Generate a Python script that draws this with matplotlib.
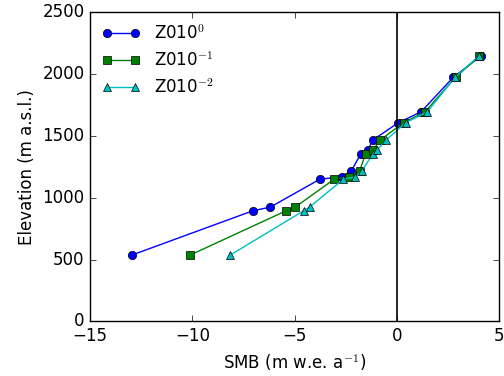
import numpy as np
import matplotlib
matplotlib.use('Agg')
import matplotlib.pyplot as plt

plt.style.use('classic')
plt.rcParams['mathtext.fontset'] = 'cm'

# elevation of the bands (m a.s.l.)
elev = [538, 895, 925, 1151, 1169, 1215, 1357, 1384, 1468, 1608, 1696, 1976, 2145]

# SMB per band for the three roughness lengths
smb_z0_0 = [-12.95, -7.05, -6.19, -3.76, -2.69, -2.23, -1.76, -1.42, -1.17, 0.08, 1.19, 2.77, 4.10]
smb_z0_1 = [-10.1, -5.42, -4.97, -3.06, -2.36, -1.82, -1.53, -1.17, -0.81, 0.33, 1.38, 2.88, 4.04]
smb_z0_2 = [-8.14, -4.56, -4.27, -2.61, -2.04, -1.71, -1.17, -0.98, -0.52, 0.44, 1.50, 2.85, 4.00]

labels = [r'Z010$^{0}$', r'Z010$^{-1}$', r'Z010$^{-2}$']

fig = plt.figure(figsize=(5.04, 3.76), dpi=100)
ax = fig.add_axes([0.179, 0.145, 0.811, 0.822])

ax.plot(smb_z0_0, elev, 'b-o', label=labels[0])
ax.plot(smb_z0_1, elev, 'g-s', label=labels[1])
ax.plot(smb_z0_2, elev, 'c-^', label=labels[2])
ax.axvline(0, color='k', linewidth=1.2)

ax.set_xlim(-15, 5)
ax.set_ylim(0, 2500)
ax.set_xticks([-15, -10, -5, 0, 5])
ax.set_yticks([0, 500, 1000, 1500, 2000, 2500])
ax.set_xlabel(r'SMB (m w.e. a$^{-1}$)')
ax.set_ylabel('Elevation (m a.s.l.)')
ax.legend(loc='upper left', frameon=False, numpoints=2, fontsize=12,
          borderaxespad=0.3, handlelength=2.3)

fig.savefig('out.png', dpi=100)
